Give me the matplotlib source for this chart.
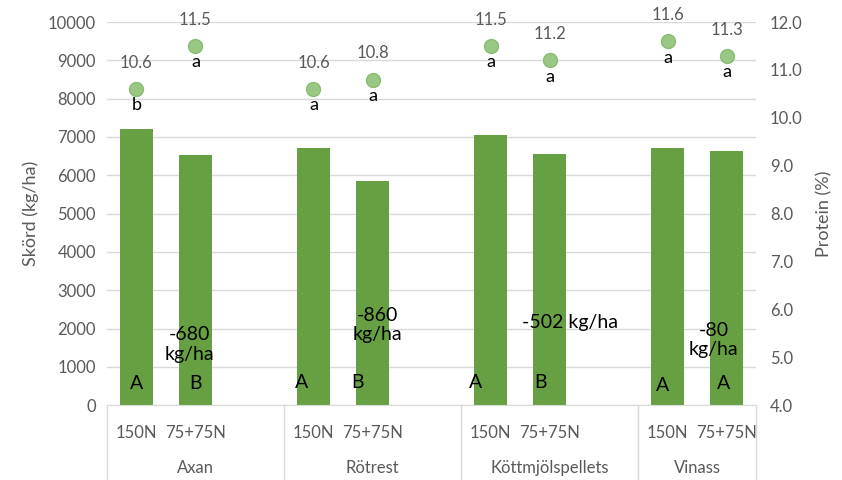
import matplotlib.pyplot as plt
import numpy as np

# Yield (kg/ha) and protein (%) per fertiliser and N strategy
groups = ['Axan', 'Rötrest', 'Köttmjölspellets', 'Vinass']
treatments = ['150N', '75+75N']
skord = [7200, 6520, 6720, 5860, 7050, 6548, 6720, 6640]
protein = [10.6, 11.5, 10.6, 10.8, 11.5, 11.2, 11.6, 11.3]
protein_letters = ['b', 'a', 'a', 'a', 'a', 'a', 'a', 'a']
yield_letters = ['A', 'B', 'A', 'B', 'A', 'B', 'A', 'A']
diff_labels = ['-680\nkg/ha', '-860\nkg/ha', '-502 kg/ha', '-80\nkg/ha']

plt.rcParams['font.family'] = ['Lato', 'DejaVu Sans']
gray = '#595959'

# each group gets three slots, the third left empty as a gap
x = np.array([g * 3 + t for g in range(len(groups)) for t in range(2)])

fig = plt.figure(figsize=(8.42, 4.8), dpi=100)
ax = fig.add_axes([0.127, 0.156, 0.771, 0.798])
ax2 = ax.twinx()

ax.bar(x, skord, width=0.56, color='#66a043', zorder=2)
ax.set_xlim(-0.5, 10.5)
ax.set_ylim(0, 10000)
ax.set_yticks(np.arange(0, 10001, 1000))
ax.grid(axis='y', color='#d9d9d9', linewidth=1, zorder=0)
ax.set_axisbelow(True)
for s in ['top', 'left', 'right']:
    ax.spines[s].set_visible(False)
ax.spines['bottom'].set_color('#d9d9d9')
ax.tick_params(axis='y', length=0, labelsize=12, labelcolor=gray, pad=8)
ax.set_ylabel('Skörd (kg/ha)', fontsize=13, color=gray, labelpad=6)

ax.set_xticks(x)
ax.set_xticklabels(treatments * len(groups))
ax.tick_params(axis='x', length=0, labelsize=12, labelcolor=gray, pad=14)

# group separators and group names below the axis
bounds = [-0.5, 2.5, 5.5, 8.5, 10.5]
trans = ax.get_xaxis_transform()
for b in bounds:
    ax.plot([b, b], [0, -0.2], transform=trans, color='#d9d9d9', lw=1, clip_on=False)
for g, name in enumerate(groups):
    mid = (bounds[g] + bounds[g + 1]) / 2
    ax.text(mid, -0.165, name, transform=trans, ha='center', va='center',
            fontsize=12, color=gray)

# yield letters near the bar bases
letter_dx = [0, 0, -0.2, -0.25, -0.25, -0.15, -0.08, -0.05]
letter_y = [570, 570, 600, 600, 600, 600, 500, 570]
for xi, lt, dx, ly in zip(x, yield_letters, letter_dx, letter_y):
    ax.text(xi + dx, ly, lt, ha='center', va='center', fontsize=14, color='black', zorder=4)

# yield difference between the two strategies
diff_dx = [-0.1, 0.08, 0.35, -0.22]
diff_y = [1580, 2090, 2170, 1700]
for g, (lab, dx, dy) in enumerate(zip(diff_labels, diff_dx, diff_y)):
    ax.text(g * 3 + 1 + dx, dy, lab, ha='center', va='center', fontsize=14,
            color='black', linespacing=1.2, zorder=4)

# protein on the secondary axis
ax2.plot(x, protein, 'o', markersize=10, color='#98c883', markeredgecolor='#8abb72',
         zorder=3)
ax2.set_ylim(4, 12)
ax2.set_yticks(np.arange(4, 12.1, 1))
ax2.set_yticklabels([f'{v:.1f}' for v in np.arange(4, 12.1, 1)])
for s in ['top', 'left', 'right', 'bottom']:
    ax2.spines[s].set_visible(False)
ax2.tick_params(axis='y', length=0, labelsize=12, labelcolor=gray, pad=10)
ax2.set_ylabel('Protein (%)', fontsize=13, color=gray, labelpad=10)

for xi, p, lt in zip(x, protein, protein_letters):
    ax2.annotate(f'{p:.1f}', (xi, p), xytext=(0, 13), textcoords='offset points',
                 ha='center', va='bottom', fontsize=12, color=gray)
    ax2.annotate(lt, (xi, p), xytext=(0, -6), textcoords='offset points',
                 ha='center', va='top', fontsize=13, color='black')

fig.savefig('out.png', dpi=100)
